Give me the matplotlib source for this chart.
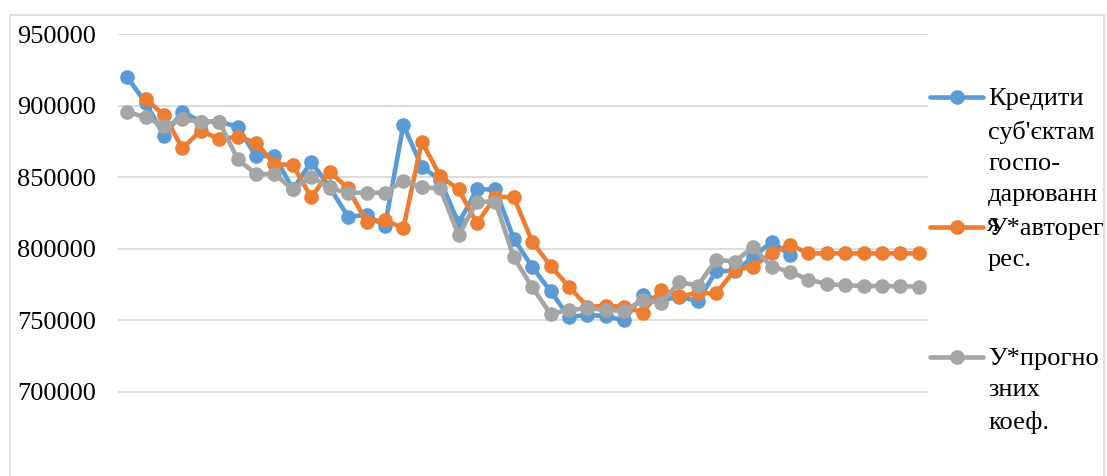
import numpy as np
import matplotlib
matplotlib.use("Agg")
import matplotlib.pyplot as plt
from matplotlib.lines import Line2D

plt.rcParams['font.family'] = ['Liberation Serif', 'DejaVu Serif']

# quarterly values, 44 periods
periods = np.arange(44)

credits = [919800, 902000, 879000, 895700, 888800, 888800, 885300, 864500, 865000, 841500,
           860800, 843000, 822400, 823600, 815900, 886500, 857300, 848000, 817800, 841500,
           841500, 807000, 787300, 770300, 752500, 753800, 753000, 750000, 767700, 764000,
           766500, 763500, 784500, 784500, 794000, 805000, 795700]

# autoregression forecast has no value for the first period
autoreg = [None, 904600, 893400, 870200, 882500, 876500, 878300, 874100, 859200, 858500,
           836000, 853800, 842200, 818900, 820100, 814300, 874800, 850800, 841500, 817800,
           836400, 836000, 805000, 788000, 773500, 759600, 760000, 759600, 755500, 771200,
           767000, 769000, 769000, 785200, 787500, 796800, 802700, 796800, 796800, 796800,
           796800, 796800, 796800, 796800]

forecast = [895700, 891800, 885800, 890400, 888800, 888800, 862500, 852200, 852200, 841500,
            850400, 842200, 839200, 839200, 839200, 847600, 842900, 842200, 809600, 832900,
            832900, 794100, 773100, 754500, 757300, 758500, 757300, 756500, 764200, 762400,
            776700, 774300, 792500, 791000, 801200, 787500, 784000, 778500, 775500, 774500,
            774000, 774000, 773800, 773600]

series_names = ["Кредити\nсуб'єктам\nгоспо-\nдарюванн", "У*авторег\nрес.", "У*прогно\nзних\nкоеф."]
colors = ["#5B9BD5", "#ED7D31", "#A5A5A5"]
y_ticks = [700000, 750000, 800000, 850000, 900000, 950000]

W, H = 1107, 476
fig = plt.figure(figsize=(W / 100, H / 100), dpi=100)

# plot area in pixels: left 118, right 928, top 34, runs past the bottom edge
px_per_unit = 358 / 250000
ymin, ymax = 640000, 950000
ax_h = (ymax - ymin) * px_per_unit
ax = fig.add_axes([118 / W, (H - 34 - ax_h) / H, 810 / W, ax_h / H])

def as_array(vals):
    return np.array([np.nan if v is None else v for v in vals], dtype=float)

for vals, c in zip([credits, autoreg, forecast], colors):
    y = as_array(vals)
    ax.plot(periods[:len(y)], y, color=c, lw=3.3, marker='o', ms=9.5,
            solid_capstyle='round', solid_joinstyle='round')

ax.set_xlim(-0.5, 43.5)
ax.set_ylim(ymin, ymax)
ax.set_yticks(y_ticks)
ax.set_yticklabels([str(t) for t in y_ticks], fontsize=19)
ax.set_xticks([])
ax.tick_params(axis='y', length=0, pad=16)
ax.grid(axis='y', color='#D9D9D9', lw=1.3)
ax.set_axisbelow(True)
for s in ax.spines.values():
    s.set_visible(False)

# chart frame
fig.add_artist(Line2D([10 / W, 10 / W], [0, 1 - 15 / H], color='#D9D9D9', lw=1.2))
fig.add_artist(Line2D([10 / W, 1104 / W], [1 - 15 / H, 1 - 15 / H], color='#D9D9D9', lw=1.2))
fig.add_artist(Line2D([1104 / W, 1104 / W], [0, 1 - 15 / H], color='#D9D9D9', lw=1.2))

# legend on the right, drawn by hand
legend_y = [97, 227, 357]
for name, c, ly in zip(series_names, colors, legend_y):
    yy = 1 - ly / H
    fig.add_artist(Line2D([930 / W, 956.5 / W, 983 / W], [yy, yy, yy], color=c, lw=3.3,
                          marker='o', ms=9.5, markevery=[1], solid_capstyle='round'))
    fig.text(988 / W, 1 - (ly - 9) / H, name, fontsize=19, va='top', ha='left',
             linespacing=1.55)
# the last wrapped line of the first label spills over the second entry
fig.text(987 / W, 1 - 225 / H, "я", fontsize=19, va='center', ha='left')

fig.savefig("out.png", dpi=100)
